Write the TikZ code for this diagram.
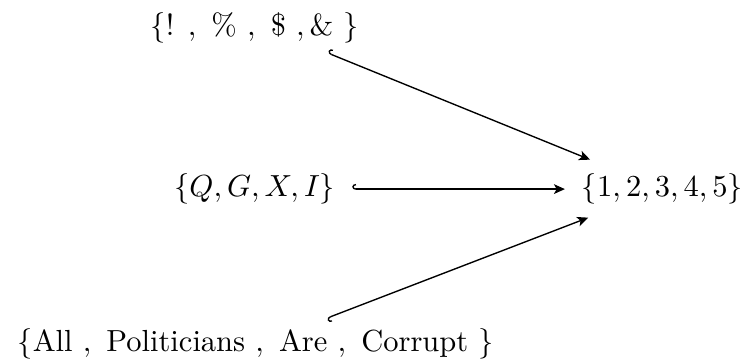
\documentclass[tikz,border=0pt]{standalone}
\usepackage{amsmath}
\usetikzlibrary{arrows.meta}
\begin{document}
\begin{tikzpicture}[
  setnode/.style={inner sep=3pt, outer sep=0pt},
  tipstyle/.style={line width=0.45pt},
  hookto/.style={tipstyle, {Hooks[right,length=1.2pt,width=3.4pt]}-{Stealth[length=3.6pt,width=3.2pt,inset=0.9pt]}},
  hooktoalt/.style={tipstyle, {Hooks[left,length=1.2pt,width=3.4pt]}-{Stealth[length=3.6pt,width=3.2pt,inset=0.9pt]}}
]
\useasboundingbox (0,0) rectangle (243.6pt,-119.3pt);
\node[setnode] (top) at (83.5pt,-9.2pt) {$\{\text{! }, \text{ \% }, \text{ \$ },\text{\& }\}$};
\node[setnode] (mid) at (83.5pt,-62pt) {$\{Q,G,X,I\}$};
\node[setnode] (bot) at (83.8pt,-112.8pt) {$\{\text{All }, \text{ Politicians }, \text{ Are }, \text{ Corrupt }\}$};
\node[setnode] (right) at (217.2pt,-62pt) {$\{1,2,3,4,5\}$};
\draw[hookto, shorten >=4.4pt] ([xshift=24pt,yshift=-0.2pt]top.south) -- (right);
\draw[hookto, shorten <=2.6pt, shorten >=2.6pt] (mid) -- (right);
\draw[hooktoalt, shorten >=3.8pt] ([xshift=23.4pt,yshift=0.5pt]bot.north) -- (right);
\end{tikzpicture}
\end{document}
